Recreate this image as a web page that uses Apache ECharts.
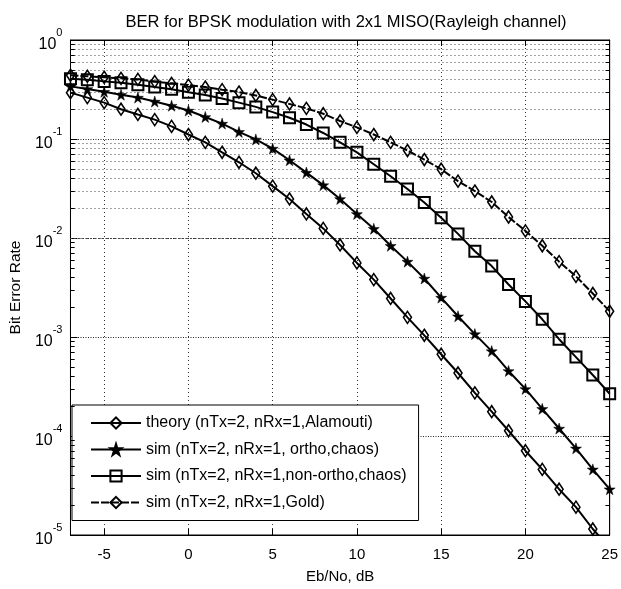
<!DOCTYPE html>
<html><head><meta charset="utf-8">
<script src="https://cdn.jsdelivr.net/npm/echarts@6/dist/echarts.min.js"></script>
<style>html,body{margin:0;padding:0;background:#fff}#c{width:621px;height:589px}</style>
</head><body><div id="c"></div>
<script>
const ebNo = [-7,-6,-5,-4,-3,-2,-1,0,1,2,3,4,5,6,7,8,9,10,11,12,13,14,15,16,17,18,19,20,21,22,23,24,25];
const theory = [0.294,0.262,0.233,0.2,0.177,0.157,0.134,0.111,0.0925,0.0734,0.0582,0.0451,0.0334,0.0248,0.0175,0.0125,0.0085,0.0056,0.0038,0.00245,0.00158,0.00104,0.00067,0.000433,0.000273,0.000176,0.000113,0.000071,0.000046,0.000029,0.0000191,0.0000115,0.0000074];
const orthoChaos = [0.34,0.32,0.30,0.28,0.262,0.239,0.217,0.194,0.167,0.143,0.118,0.099,0.08,0.061,0.0458,0.0342,0.0248,0.0175,0.0124,0.00835,0.00577,0.0039,0.0025,0.00162,0.00107,0.00072,0.000454,0.000299,0.000188,0.000119,0.000075,0.000046,0.000029];
const nonOrthoChaos = [0.406,0.397,0.382,0.370,0.353,0.335,0.318,0.296,0.278,0.256,0.233,0.211,0.187,0.164,0.14,0.115,0.0925,0.0733,0.0556,0.0421,0.0312,0.0228,0.016,0.011,0.00735,0.0052,0.00339,0.00229,0.00151,0.00095,0.000627,0.000413,0.000267];
const gold = [0.44,0.43,0.42,0.41,0.40,0.38,0.365,0.35,0.335,0.315,0.298,0.275,0.25,0.226,0.204,0.18,0.152,0.131,0.111,0.0925,0.0765,0.062,0.0495,0.0375,0.0298,0.0231,0.0163,0.0118,0.00835,0.00577,0.0041,0.00275,0.00182];
const seriesNames = ['theory (nTx=2, nRx=1,Alamouti)','sim (nTx=2, nRx=1, ortho,chaos)','sim (nTx=2, nRx=1,non-ortho,chaos)','sim (nTx=2, nRx=1,Gold)'];
const xTicks = [-5,0,5,10,15,20,25];
const xMin = -7, xMax = 25, yMin = 1e-5, yMax = 1;

const minorVals = [];
for (let e = -5; e < 0; e++) for (let m = 2; m <= 9; m++) minorVals.push(m * Math.pow(10, e));

const starPath = 'path://M50,0 L61,35 L98,35 L68,57 L79,91 L50,70 L21,91 L32,57 L2,35 L39,35 Z';
const pts = arr => ebNo.map((x, i) => [x, arr[i]]);
const FONT = 'Liberation Sans';

const chart = echarts.init(document.getElementById('c'));
const baseLine = {type: 'line', xAxisIndex: 0, yAxisIndex: 0, showSymbol: true, clip: true, z: 5};
chart.setOption({
  animation: false,
  backgroundColor: '#fff',
  textStyle: {fontFamily: FONT},
  title: {text: 'BER for BPSK modulation with 2x1 MISO(Rayleigh channel)', left: 341, top: 9, textAlign: 'center',
    textStyle: {fontFamily: FONT, fontSize: 16.5, fontWeight: 'normal', color: '#000'}},
  grid: {left: 69, right: 4, top: 40, bottom: 51, show: true, borderColor: '#000', borderWidth: 1, backgroundColor: 'transparent'},
  legend: {
    data: seriesNames, orient: 'vertical', left: 72, top: 405,
    backgroundColor: '#fff', borderColor: '#000', borderWidth: 1, borderRadius: 0,
    padding: [9, 12, 9, 18], itemWidth: 50, itemHeight: 14, itemGap: 8.5,
    textStyle: {fontFamily: FONT, fontSize: 16, lineHeight: 18, color: '#000'}
  },
  xAxis: [
    {type: 'value', min: xMin, max: xMax, position: 'bottom',
     name: 'Eb/No, dB', nameLocation: 'middle', nameGap: 34,
     nameTextStyle: {fontFamily: FONT, fontSize: 15, color: '#000'},
     axisLine: {show: true, onZero: false, lineStyle: {color: '#000'}},
     axisTick: {show: true, inside: true, length: 6, customValues: xTicks, lineStyle: {color: '#000'}},
     axisLabel: {customValues: xTicks, margin: 12, fontFamily: FONT, fontSize: 15, color: '#000'},
     splitLine: {show: true, lineStyle: {color: '#333', type: [1, 3], width: 1}}},
    {type: 'value', min: xMin, max: xMax, position: 'top',
     axisLine: {show: true, onZero: false, lineStyle: {color: '#000'}},
     axisTick: {show: true, inside: true, length: 6, customValues: xTicks, lineStyle: {color: '#000'}},
     axisLabel: {show: false}, splitLine: {show: false}}
  ],
  yAxis: [
    {type: 'log', logBase: 10, min: yMin, max: yMax, position: 'left',
     name: 'Bit Error Rate', nameLocation: 'middle', nameGap: 44,
     nameTextStyle: {fontFamily: FONT, fontSize: 15.5, color: '#000'},
     axisLine: {show: true, onZero: false, lineStyle: {color: '#000'}},
     axisTick: {show: true, inside: true, length: 7, lineStyle: {color: '#000'}},
     axisLabel: {margin: 8, fontFamily: FONT, color: '#000',
       formatter: v => '{b|10}{s|' + Math.round(Math.log10(v)) + '}',
       rich: {b: {fontSize: 16, fontFamily: FONT, color: '#000', lineHeight: 26, verticalAlign: 'bottom'},
              s: {fontSize: 11, fontFamily: FONT, color: '#000', verticalAlign: 'top', lineHeight: 14}}},
     splitLine: {show: true, lineStyle: {color: '#222', type: [1, 1.5], width: 1}}},
    {type: 'log', logBase: 10, min: yMin, max: yMax, position: 'right',
     axisLine: {show: true, onZero: false, lineStyle: {color: '#000'}},
     axisTick: {show: true, inside: true, length: 7, lineStyle: {color: '#000'}},
     axisLabel: {show: false}, splitLine: {show: false}}
  ],
  series: [
    {type: 'line', name: '__grid', data: [], xAxisIndex: 0, yAxisIndex: 0, silent: true, z: 1,
     markLine: {silent: true, symbol: 'none', label: {show: false}, animation: false,
       lineStyle: {color: '#444', type: [1, 3], width: 1},
       data: minorVals.map(v => ({yAxis: v}))
         .concat(minorVals.map(v => [{coord: [xMin, v], lineStyle: {type: 'solid', color: '#000'}}, {coord: [xMin + 0.25, v]}]))
         .concat(minorVals.map(v => [{coord: [xMax, v], lineStyle: {type: 'solid', color: '#000'}}, {coord: [xMax - 0.25, v]}]))}},
    Object.assign({}, baseLine, {name: seriesNames[0], data: pts(theory), symbol: 'diamond', symbolSize: [8, 12],
      lineStyle: {color: '#000', width: 2}, itemStyle: {color: 'rgba(255,255,255,0)', borderColor: '#000', borderWidth: 1.6}}),
    Object.assign({}, baseLine, {name: seriesNames[1], data: pts(orthoChaos), symbol: starPath, symbolSize: 11,
      lineStyle: {color: '#000', width: 2}, itemStyle: {color: '#000', borderColor: '#000', borderWidth: 0.5}}),
    Object.assign({}, baseLine, {name: seriesNames[2], data: pts(nonOrthoChaos), symbol: 'rect', symbolSize: 11,
      lineStyle: {color: '#000', width: 2}, itemStyle: {color: 'rgba(255,255,255,0)', borderColor: '#000', borderWidth: 2}}),
    Object.assign({}, baseLine, {name: seriesNames[3], data: pts(gold), symbol: 'diamond', symbolSize: [8, 12],
      lineStyle: {color: '#000', width: 2, type: [8, 2]}, itemStyle: {color: 'rgba(255,255,255,0)', borderColor: '#000', borderWidth: 1.6}})
  ]
});
</script></body></html>
